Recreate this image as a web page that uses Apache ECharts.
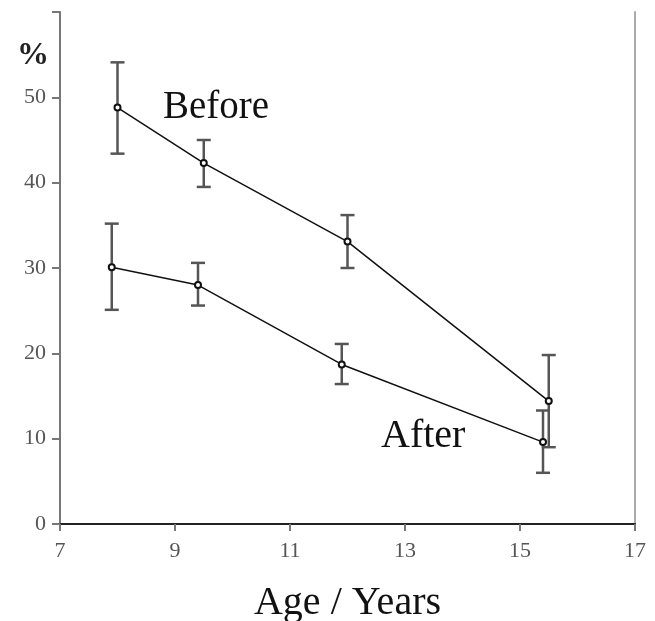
<!DOCTYPE html>
<html>
<head>
<meta charset="utf-8">
<script src="https://cdn.jsdelivr.net/npm/echarts@6/dist/echarts.min.js"></script>
<style>
  html, body { margin: 0; padding: 0; background: #fff; }
  #main { width: 655px; height: 621px; }
</style>
</head>
<body>
<div id="main"></div>
<script>
// ages and values
var beforeAge = [8.0, 9.5, 12.0, 15.5];
var beforeMean = [48.8, 42.3, 33.1, 14.4];
var beforeLow = [43.4, 39.5, 30.0, 9.0];
var beforeHigh = [54.1, 45.0, 36.2, 19.8];

var afterAge = [7.9, 9.4, 11.9, 15.4];
var afterMean = [30.1, 28.0, 18.7, 9.6];
var afterLow = [25.1, 25.6, 16.4, 6.0];
var afterHigh = [35.2, 30.6, 21.1, 13.3];

var xTicks = [7, 9, 11, 13, 15, 17];
var yTicks = [0, 10, 20, 30, 40, 50];

var serif = '"Liberation Serif", "DejaVu Serif", serif';
var axisGray = '#777';

function pairs(xs, ys) {
  return xs.map(function (x, i) { return [x, ys[i]]; });
}
function bars(xs, lo, hi) {
  return xs.map(function (x, i) { return [x, lo[i], hi[i]]; });
}

function renderErrorBar(params, api) {
  var x = api.value(0);
  var lo = api.coord([x, api.value(1)]);
  var hi = api.coord([x, api.value(2)]);
  var cap = 7;
  var style = { stroke: '#555', lineWidth: 2.5 };
  return {
    type: 'group',
    children: [
      { type: 'line', shape: { x1: lo[0], y1: lo[1], x2: hi[0], y2: hi[1] }, style: style },
      { type: 'line', shape: { x1: lo[0] - cap, y1: lo[1], x2: lo[0] + cap, y2: lo[1] }, style: style },
      { type: 'line', shape: { x1: hi[0] - cap, y1: hi[1], x2: hi[0] + cap, y2: hi[1] }, style: style }
    ]
  };
}

var chart = echarts.init(document.getElementById('main'));

var axisLine = { show: true, lineStyle: { color: axisGray, width: 2 } };

chart.setOption({
  animation: false,
  grid: { left: 60, right: 20, top: 12, bottom: 97, outerBoundsMode: 'none', containLabel: false },
  xAxis: [{
    type: 'value',
    min: 7, max: 17, interval: 2,
    position: 'bottom',
    splitLine: { show: false },
    axisLine: axisLine,
    axisTick: { show: true, length: 7, inside: false, lineStyle: { color: axisGray, width: 2 } },
    axisLabel: {
      margin: 16,
      fontFamily: serif, fontSize: 22, color: '#555',
      formatter: function (v) { return xTicks.indexOf(v) >= 0 ? String(v) : ''; }
    },
    name: 'Age / Years',
    nameLocation: 'middle',
    nameGap: 59,
    nameTextStyle: { fontFamily: serif, fontSize: 40, color: '#111' }
  }, {
    type: 'value',
    min: 7, max: 17,
    position: 'top',
    splitLine: { show: false },
    axisLine: { show: true, lineStyle: { color: '#222', width: 2 } },
    axisTick: { show: false },
    axisLabel: { show: false }
  }],
  yAxis: [{
    type: 'value',
    min: 0, max: 60, interval: 10,
    position: 'left',
    splitLine: { show: false },
    axisLine: axisLine,
    axisTick: { show: true, length: 8, lineStyle: { color: axisGray, width: 2 } },
    axisLabel: {
      margin: 14,
      fontFamily: serif, fontSize: 22, color: '#555',
      formatter: function (v) { return yTicks.indexOf(v) >= 0 ? String(v) : ''; }
    }
  }, {
    type: 'value',
    min: 0, max: 60,
    position: 'right',
    splitLine: { show: false },
    axisLine: { show: true, lineStyle: { color: '#aaa', width: 2 } },
    axisTick: { show: false },
    axisLabel: { show: false }
  }],
  graphic: [
    { type: 'text', left: 17, top: 40, style: { text: '%', font: 'bold 32px ' + serif, fill: '#222' } },
    { type: 'text', left: 163, top: 88, style: { text: 'Before', font: '39px ' + serif, fill: '#111' } },
    { type: 'text', left: 381, top: 416, style: { text: 'After', font: '40px ' + serif, fill: '#111' } }
  ],
  series: [
    {
      type: 'custom', name: 'Before error',
      renderItem: renderErrorBar,
      encode: { x: 0, y: [1, 2] },
      data: bars(beforeAge, beforeLow, beforeHigh),
      z: 1
    },
    {
      type: 'custom', name: 'After error',
      renderItem: renderErrorBar,
      encode: { x: 0, y: [1, 2] },
      data: bars(afterAge, afterLow, afterHigh),
      z: 1
    },
    {
      type: 'line', name: 'Before',
      data: pairs(beforeAge, beforeMean),
      symbol: 'emptyCircle', symbolSize: 6,
      lineStyle: { color: '#111', width: 1.5 },
      itemStyle: { color: '#111', borderWidth: 1 },
      z: 3
    },
    {
      type: 'line', name: 'After',
      data: pairs(afterAge, afterMean),
      symbol: 'emptyCircle', symbolSize: 6,
      lineStyle: { color: '#111', width: 1.5 },
      itemStyle: { color: '#111', borderWidth: 1 },
      z: 3
    }
  ]
});
</script>
</body>
</html>
